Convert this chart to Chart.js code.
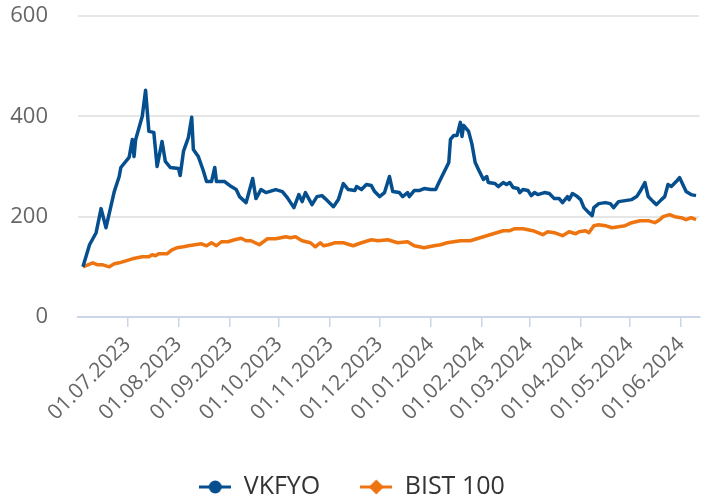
<!DOCTYPE html>
<html><head><meta charset="utf-8">
<script src="https://cdn.jsdelivr.net/npm/chart.js@4.4.1/dist/chart.umd.min.js"></script>
<style>html,body{margin:0;padding:0;background:#fff;}</style>
</head><body>
<canvas id="c" width="704" height="499"></canvas>
<script>
// ---- data ----
const monthTicks = ['2023-07-01','2023-08-01','2023-09-01','2023-10-01','2023-11-01','2023-12-01',
  '2024-01-01','2024-02-01','2024-03-01','2024-04-01','2024-05-01','2024-06-01'];
const yTicks = [0, 200, 400, 600];
const seriesNames = ['VKFYO', 'BIST 100'];

const vkfyoDates = ['2023-06-04','2023-06-08','2023-06-12','2023-06-15','2023-06-18','2023-06-23','2023-06-26','2023-06-27',
  '2023-07-02','2023-07-04','2023-07-05','2023-07-06','2023-07-10','2023-07-12','2023-07-14','2023-07-17','2023-07-19',
  '2023-07-22','2023-07-24','2023-07-27','2023-08-01','2023-08-02','2023-08-04','2023-08-07','2023-08-09','2023-08-10',
  '2023-08-13','2023-08-16','2023-08-18','2023-08-21','2023-08-23','2023-08-24','2023-08-29','2023-09-02','2023-09-05',
  '2023-09-07','2023-09-11','2023-09-15','2023-09-17','2023-09-20','2023-09-23','2023-09-29','2023-10-03','2023-10-06',
  '2023-10-10','2023-10-13','2023-10-15','2023-10-17','2023-10-21','2023-10-24','2023-10-27','2023-10-29','2023-11-03',
  '2023-11-06','2023-11-09','2023-11-12','2023-11-16','2023-11-17','2023-11-20','2023-11-23','2023-11-26','2023-11-28',
  '2023-12-01','2023-12-04','2023-12-07','2023-12-09','2023-12-13','2023-12-15','2023-12-18','2023-12-19','2023-12-22',
  '2023-12-25','2023-12-28','2024-01-01','2024-01-04','2024-01-06','2024-01-09','2024-01-12','2024-01-13','2024-01-15',
  '2024-01-17','2024-01-19','2024-01-20','2024-01-21','2024-01-24','2024-01-26','2024-01-28','2024-01-30','2024-02-02',
  '2024-02-04','2024-02-05','2024-02-09','2024-02-11','2024-02-14','2024-02-16','2024-02-18','2024-02-20','2024-02-23',
  '2024-02-24','2024-02-26','2024-02-29','2024-03-02','2024-03-04','2024-03-06','2024-03-10','2024-03-13','2024-03-16',
  '2024-03-19','2024-03-21','2024-03-24','2024-03-25','2024-03-27','2024-03-30','2024-04-01','2024-04-03','2024-04-06',
  '2024-04-08','2024-04-09','2024-04-12','2024-04-16','2024-04-19','2024-04-21','2024-04-24','2024-04-28','2024-05-02',
  '2024-05-05','2024-05-07','2024-05-10','2024-05-12','2024-05-15','2024-05-17','2024-05-20','2024-05-22','2024-05-24',
  '2024-05-26','2024-05-29','2024-05-31','2024-06-02','2024-06-04','2024-06-07','2024-06-10'];
const vkfyoValues = [100,144,168,216,178,250,280,298,
  318,354,320,354,400,452,370,368,300,
  350,310,298,296,282,330,358,398,334,
  320,292,270,270,298,270,270,260,254,
  240,228,276,236,254,248,254,250,238,
  218,244,230,248,224,240,242,236,220,
  234,266,254,252,260,254,264,262,250,
  240,248,280,250,248,240,248,240,252,
  252,256,254,254,268,288,308,354,362,
  362,388,360,382,370,345,308,294,274,
  280,268,266,260,268,264,268,258,256,
  248,254,252,242,248,244,248,246,236,
  236,228,240,234,246,240,234,218,208,
  202,218,226,228,226,218,230,232,234,
  240,250,268,240,230,224,234,240,264,
  260,270,278,264,250,244,242];

const bistDates = ['2023-06-04','2023-06-10','2023-06-13','2023-06-16','2023-06-20','2023-06-23','2023-06-26','2023-06-30',
  '2023-07-04','2023-07-10','2023-07-14','2023-07-16','2023-07-18','2023-07-20','2023-07-25','2023-07-28','2023-07-31',
  '2023-08-04','2023-08-07','2023-08-11','2023-08-15','2023-08-18','2023-08-21','2023-08-24','2023-08-27','2023-08-31',
  '2023-09-04','2023-09-08','2023-09-11','2023-09-14','2023-09-19','2023-09-24','2023-09-29','2023-10-05','2023-10-08',
  '2023-10-11','2023-10-15','2023-10-20','2023-10-23','2023-10-26','2023-10-28','2023-10-31','2023-11-04','2023-11-09',
  '2023-11-15','2023-11-20','2023-11-26','2023-11-30','2023-12-06','2023-12-12','2023-12-18','2023-12-22','2023-12-28',
  '2024-01-03','2024-01-07','2024-01-11','2024-01-19','2024-01-25','2024-01-29','2024-02-02','2024-02-06','2024-02-10',
  '2024-02-14','2024-02-18','2024-02-21','2024-02-26','2024-03-03','2024-03-09','2024-03-12','2024-03-16','2024-03-21',
  '2024-03-25','2024-03-29','2024-03-31','2024-04-04','2024-04-06','2024-04-09','2024-04-12','2024-04-16','2024-04-20',
  '2024-04-24','2024-04-28','2024-05-02','2024-05-07','2024-05-12','2024-05-16','2024-05-19','2024-05-21','2024-05-25',
  '2024-05-28','2024-06-01','2024-06-04','2024-06-07','2024-06-10'];
const bistValues = [100,108,104,104,100,106,108,112,
  116,120,120,124,122,126,126,134,138,
  140,142,144,146,142,148,142,150,150,
  154,157,152,152,144,156,156,160,158,
  160,152,148,140,148,142,144,148,148,
  142,148,154,152,154,148,150,142,138,
  142,144,148,152,152,156,160,164,168,
  172,172,176,176,172,164,170,168,162,
  170,166,170,172,168,182,184,182,178,
  180,182,188,192,192,188,194,200,204,
  200,198,194,198,194];

// ---- helpers ----
const toDay = s => Date.parse(s + 'T00:00:00Z') / 864e5;
const fmt = v => { const t = new Date(Math.round(v) * 864e5);
  const p = n => String(n).padStart(2, '0');
  return p(t.getUTCDate()) + '.' + p(t.getUTCMonth() + 1) + '.' + t.getUTCFullYear(); };
const pts = (ds, vs) => ds.map((s, i) => ({x: toDay(s), y: vs[i]}));

const BLUE = '#054f8f', ORANGE = '#ee7410';

function legendIcon(color, shape) {
  const c = document.createElement('canvas');
  c.width = 32; c.height = 16;
  const g = c.getContext('2d');
  g.strokeStyle = color; g.lineWidth = 3;
  g.beginPath(); g.moveTo(0, 8); g.lineTo(32, 8); g.stroke();
  g.fillStyle = color;
  g.beginPath();
  if (shape === 'circle') { g.arc(16, 8, 6.5, 0, Math.PI * 2); }
  else { g.moveTo(16, 0.5); g.lineTo(23.5, 8); g.lineTo(16, 15.5); g.lineTo(8.5, 8); g.closePath(); }
  g.fill();
  return c;
}
const icons = [legendIcon(BLUE, 'circle'), legendIcon(ORANGE, 'diamond')];

const FONT = "'Open Sans', 'DejaVu Sans', sans-serif";

new Chart(document.getElementById('c'), {
  type: 'line',
  data: {
    datasets: [
      {label: seriesNames[0], data: pts(vkfyoDates, vkfyoValues), borderColor: BLUE, backgroundColor: BLUE,
       borderWidth: 3.5, pointRadius: 0, tension: 0, borderJoinStyle: 'round'},
      {label: seriesNames[1], data: pts(bistDates, bistValues), borderColor: ORANGE, backgroundColor: ORANGE,
       borderWidth: 3.5, pointRadius: 0, tension: 0, borderJoinStyle: 'round'}
    ]
  },
  options: {
    responsive: false,
    animation: false,
    devicePixelRatio: 1,
    layout: {padding: {top: 16, right: 0, left: 0, bottom: -10.5}},
    plugins: {
      tooltip: {enabled: false},
      legend: {
        position: 'bottom',
        labels: {
          usePointStyle: true,
          pointStyleWidth: 32,
          padding: 40,
          color: '#333333',
          font: {family: FONT, size: 25},
          generateLabels: chart => {
            const items = Chart.defaults.plugins.legend.labels.generateLabels(chart);
            items.forEach((it, i) => { it.pointStyle = icons[i]; });
            return items;
          }
        }
      }
    },
    scales: {
      x: {
        type: 'linear',
        min: toDay('2023-06-01'),
        max: toDay('2024-06-12'),
        afterBuildTicks: s => { s.ticks = monthTicks.map(m => ({value: toDay(m)})); },
        afterFit: s => { s.height = 117.5; },
        grid: {drawOnChartArea: false, drawTicks: true, tickLength: 10, color: '#ccd6eb', lineWidth: 1.5},
        border: {color: '#ccd6eb', width: 2},
        ticks: {
          autoSkip: false, minRotation: 45, maxRotation: 45, padding: 5,
          color: '#666666', font: {family: FONT, size: 21},
          callback: v => fmt(v)
        }
      },
      y: {
        min: 0, max: 600,
        afterBuildTicks: s => { s.ticks = yTicks.map(v => ({value: v})); },
        afterFit: s => { s.width = 78; s.paddingTop = 0; s.paddingBottom = 0; },
        grid: {color: '#e6e6e6', lineWidth: 2, drawTicks: false},
        border: {display: false},
        ticks: {padding: 30, color: '#666666', font: {family: FONT, size: 22}}
      }
    }
  }
});
</script>
</body></html>
